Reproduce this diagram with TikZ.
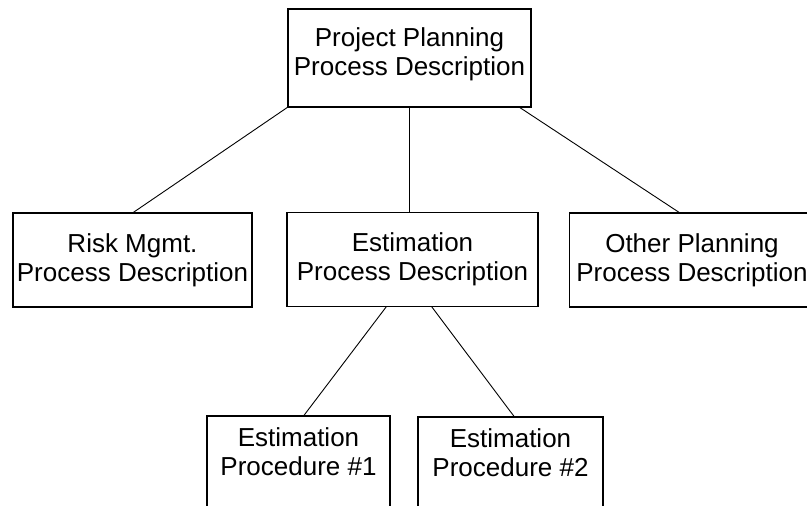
\documentclass[tikz,border=0pt]{standalone}
\usepackage{fontspec}
\setmainfont{Liberation Sans}
\usetikzlibrary{positioning}

\begin{document}
\begin{tikzpicture}[x=1pt, y=1pt, outer sep=0pt]
    \tikzstyle{box} = [rectangle, draw, line width=1.2pt, align=center, inner sep=0pt, minimum height=94pt, font=\fontsize{26}{29}\selectfont]
    \tikzstyle{proc} = [box, minimum height=110pt, text depth=38pt]
    \tikzstyle{link} = [line width=0.9pt]
    \useasboundingbox (0,0) rectangle (807,506);
    \clip (0,0) rectangle (807,506);
    % top level
    \node[box, minimum width=243pt, minimum height=98pt, text depth=12pt] (plan) at (409.5,448) {Project Planning\\Process Description};
    % second level
    \node[box, minimum width=239pt] (risk) at (132.5,246) {Risk Mgmt.\\Process Description};
    \node[box, minimum width=251pt] (est) at (412.5,246.5) {Estimation\\Process Description};
    \node[box, minimum width=245pt] (other) at (692,246) {Other Planning\\Process Description};
    % procedures
    \node[proc, minimum width=183pt] (proc1) at (298.5,35) {Estimation\\Procedure \#1};
    \node[proc, minimum width=185pt] (proc2) at (510.5,34) {Estimation\\Procedure \#2};
    % connectors
    \draw[link] (plan.south west) -- (risk.north);
    \draw[link] (plan.south) -- (plan.south |- est.north);
    \draw[link] ([xshift=-12pt]plan.south east) -- ([xshift=-12pt]other.north);
    \draw[link] ([xshift=-26pt]est.south) -- ([xshift=5pt]proc1.north);
    \draw[link] ([xshift=19pt]est.south) -- ([xshift=4pt]proc2.north);
\end{tikzpicture}
\end{document}
